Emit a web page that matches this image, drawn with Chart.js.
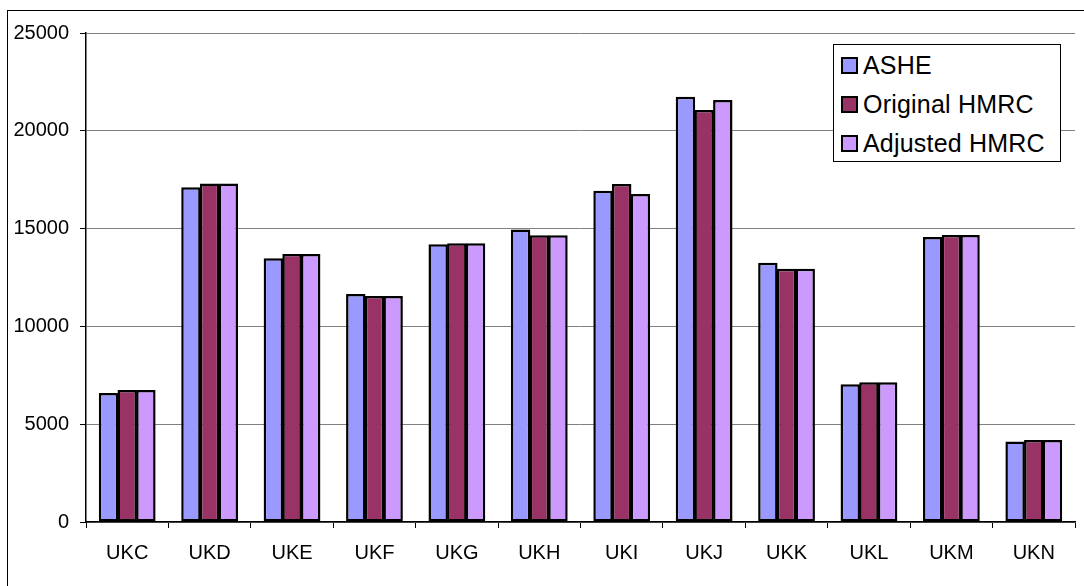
<!DOCTYPE html>
<html>
<head>
<meta charset="utf-8">
<script src="https://cdn.jsdelivr.net/npm/chart.js@4.4.1/dist/chart.umd.min.js"></script>
<style>
  html, body { margin: 0; padding: 0; background: #fff; overflow: hidden; }
  #wrap { position: relative; width: 1084px; height: 586px; overflow: hidden; }
  #frame { position: absolute; left: 7px; top: 10px; width: 1100px; height: 600px; border: 1.5px solid #000; box-sizing: border-box; }
  #graf { position: absolute; left: 0; top: 0; }
  #leyenda { position: absolute; left: 833px; top: 44px; width: 228px; height: 118px; box-sizing: border-box;
    border: 1px solid #000; background: #fff; font-family: "Liberation Sans", Arial, sans-serif; font-size: 25px; letter-spacing: 0.2px; color: #000; }
  #leyenda .item { position: absolute; left: 7px; height: 28px; line-height: 28px; white-space: nowrap; }
  #leyenda .caja { display: inline-block; width: 13px; height: 13px; border: 2px solid #000; vertical-align: 0px; margin-right: 5px; }
</style>
</head>
<body>
<div id="wrap">
  <div id="frame"></div>
  <canvas id="graf" width="1084" height="586"></canvas>
  <div id="leyenda"></div>
</div>
<script>
const regiones = ['UKC', 'UKD', 'UKE', 'UKF', 'UKG', 'UKH', 'UKI', 'UKJ', 'UKK', 'UKL', 'UKM', 'UKN'];
const ashe = [6600, 17110, 13480, 11660, 14200, 14960, 16940, 21740, 13260, 7040, 14570, 4110];
const hmrcOriginal = [6750, 17310, 13700, 11560, 14250, 14660, 17280, 21060, 12950, 7140, 14670, 4190];
const hmrcAjustado = [6750, 17310, 13700, 11560, 14250, 14660, 16770, 21570, 12950, 7140, 14670, 4190];
const nombres = ['ASHE', 'Original HMRC', 'Adjusted HMRC'];
const colores = ['#9999ff', '#993366', '#cc99ff'];

const fuente = '"Liberation Sans", Arial, sans-serif';
const series = [ashe, hmrcOriginal, hmrcAjustado];

const chartConfig = {
    type: 'bar',
    data: {
        labels: regiones,
        datasets: series.map((valores, i) => ({
            label: nombres[i],
            data: valores,
            backgroundColor: colores[i],
            borderColor: '#000',
            borderWidth: 2.5,
            borderSkipped: false,
            categoryPercentage: 0.68,
            barPercentage: 1.04
        }))
    },
    options: {
        responsive: false,
        animation: false,
        layout: { padding: { left: 0, top: 33, right: 9, bottom: 0 } },
        plugins: {
            legend: { display: false },
            tooltip: { enabled: false }
        },
        scales: {
            x: {
                afterFit: s => { s.height = 64; },
                grid: {
                    offset: true,
                    drawOnChartArea: true,
                    // solo la última línea: borde derecho gris del área
                    color: ctx => ctx.index === regiones.length ? '#808080' : 'rgba(0,0,0,0)',
                    tickColor: '#000',
                    tickLength: 6
                },
                border: { color: '#000', width: 1.5 },
                ticks: { color: '#000', padding: 13, font: { family: fuente, size: 20 } }
            },
            y: {
                min: 0,
                max: 25000,
                afterFit: s => { s.width = 86; },
                grid: { color: '#808080', tickColor: '#000', tickLength: 6 },
                border: { color: '#000', width: 1.5 },
                ticks: {
                    stepSize: 5000,
                    color: '#000',
                    padding: 11,
                    font: { family: fuente, size: 20 },
                    callback: v => String(v)
                }
            }
        }
    }
};

new Chart(document.getElementById('graf').getContext('2d'), chartConfig);

// Leyenda como texto HTML
const leyenda = document.getElementById('leyenda');
nombres.forEach((n, i) => {
    const item = document.createElement('div');
    item.className = 'item';
    item.style.top = (6 + i * 39) + 'px';
    item.innerHTML = '<span class="caja" style="background:' + colores[i] + '"></span>' + n;
    leyenda.appendChild(item);
});
</script>
</body>
</html>
